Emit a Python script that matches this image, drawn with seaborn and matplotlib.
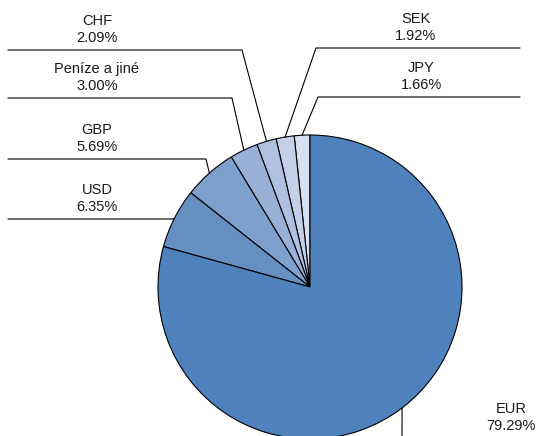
import numpy as np
import seaborn as sns
import matplotlib.pyplot as plt

sns.set_theme(style="white")
plt.rcParams['font.family'] = ['Liberation Sans', 'DejaVu Sans']

# data (counterclockwise from top)
meny = ["JPY", "SEK", "CHF", "Peníze a jiné", "GBP", "USD", "EUR"]
podily = [1.66, 1.92, 2.09, 3.00, 5.69, 6.35, 79.29]
barvy = ["#d8dff0", "#c4cfe8", "#b0c0e0", "#9bb0d6", "#7ea0cc", "#6690c2", "#4f81bd"]

# layout in pixels (y measured from bottom)
W, H = 536, 436
cx, cy, r = 310, 149, 152
# elbow point, end of horizontal line, text position
popisky = {
    "JPY": ((318, 339), 520, (421, 344)),
    "SEK": ((316, 388), 520, (416, 393)),
    "CHF": ((242, 386), 8, (97, 391)),
    "Peníze a jiné": ((232, 338), 8, (97, 343)),
    "GBP": ((206, 277), 8, (97, 282)),
    "USD": ((172, 217), 8, (97, 222)),
    "EUR": ((402, -10), None, (511, 3)),
}

fig = plt.figure(figsize=(W / 100, H / 100), dpi=100)
ax = fig.add_axes([0, 0, 1, 1])
wedges, _ = ax.pie(podily, colors=barvy, startangle=90, counterclock=True,
                   center=(cx, cy), radius=r,
                   wedgeprops=dict(edgecolor="black", linewidth=0.8))
ax.set_xlim(0, W)
ax.set_ylim(0, H)
ax.set_aspect("equal")
ax.axis("off")

for w, mena, podil in zip(wedges, meny, podily):
    uhel = np.deg2rad((w.theta1 + w.theta2) / 2)
    x0, y0 = cx + r * np.cos(uhel), cy + r * np.sin(uhel)
    (ex, ey), konec, (tx, ty) = popisky[mena]
    xs, ys = [x0, ex], [y0, ey]
    if konec is not None:
        xs.append(konec)
        ys.append(ey)
    ax.plot(xs, ys, color="black", linewidth=0.8, clip_on=False)
    ax.text(tx, ty, f"{mena}\n{podil:.2f}%", ha="center", va="bottom",
            fontsize=10.5, color="#1a1a1a", linespacing=1.25)

fig.savefig("out.png", dpi=100)
